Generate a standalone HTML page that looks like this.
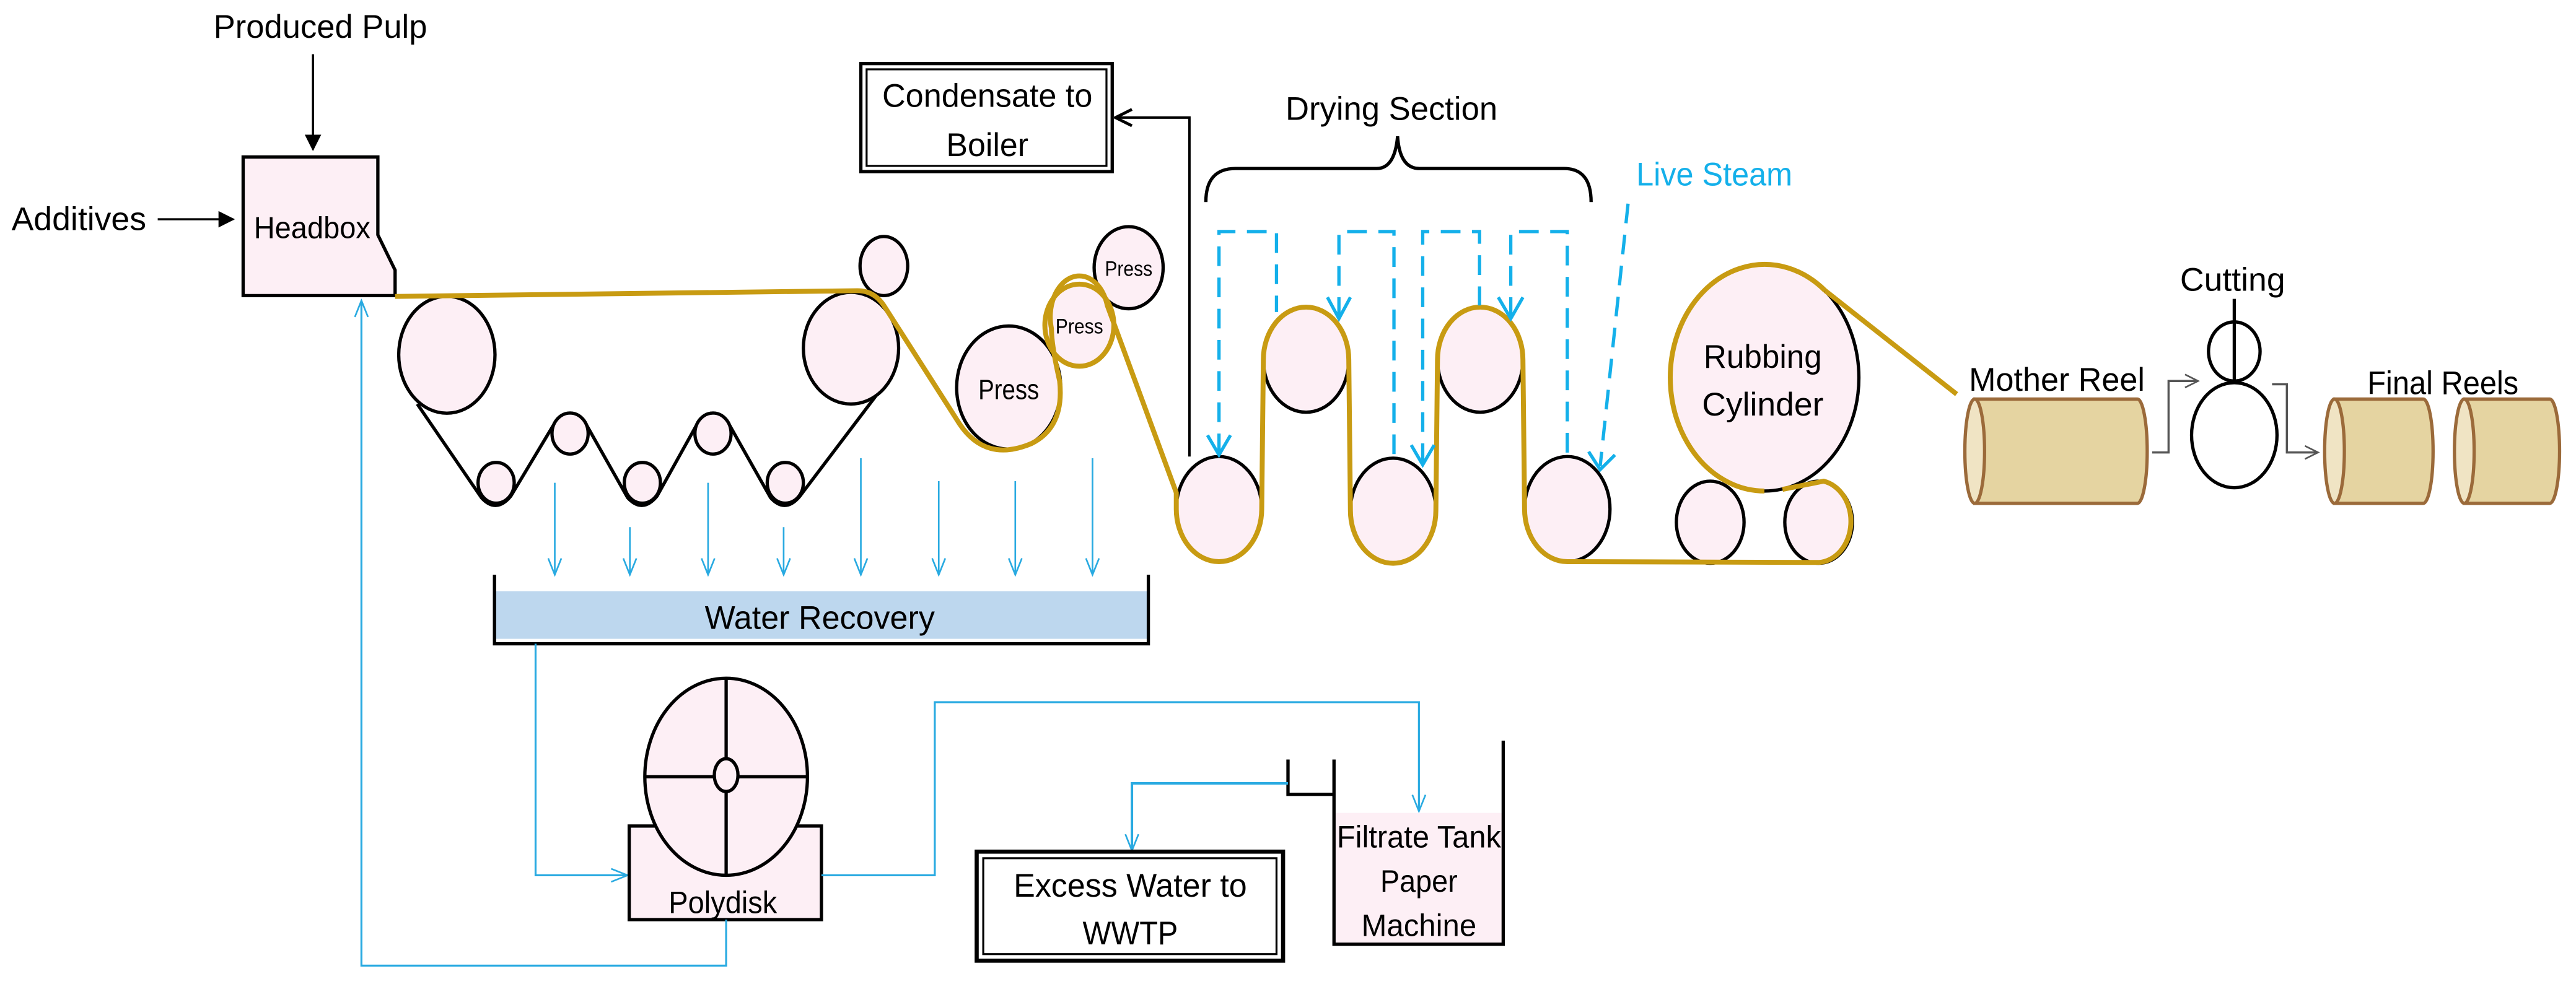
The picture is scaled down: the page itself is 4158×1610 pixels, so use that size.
<!DOCTYPE html>
<html><head><meta charset="utf-8"><style>
html,body{margin:0;padding:0;background:#fff;}
svg{display:block;}
text{font-family:"Liberation Sans Narrow","Liberation Sans",sans-serif;fill:#000;}
</style></head><body>
<svg width="4158" height="1610" viewBox="0 0 1568 607.1" xmlns="http://www.w3.org/2000/svg">
<defs>
<marker id="fa" markerWidth="10" markerHeight="10" refX="9" refY="5" orient="auto" markerUnits="userSpaceOnUse"><path d="M0,0 L10,5 L0,10 Z" fill="#000"/></marker>
<marker id="oa" markerWidth="12" markerHeight="12" refX="11" refY="6" orient="auto" markerUnits="userSpaceOnUse"><path d="M1,1 L11,6 L1,11" fill="none" stroke="#000" stroke-width="1.8"/></marker>
<marker id="ba" markerWidth="12" markerHeight="12" refX="11" refY="6" orient="auto" markerUnits="userSpaceOnUse"><path d="M1,2 L11,6 L1,10" fill="none" stroke="#29aae1" stroke-width="1"/></marker>
<marker id="ga" markerWidth="10" markerHeight="10" refX="9" refY="5" orient="auto" markerUnits="userSpaceOnUse"><path d="M1,1 L9,5 L1,9" fill="none" stroke="#555" stroke-width="1"/></marker>
</defs>

<text x="195" y="23" font-size="20" text-anchor="middle" textLength="130" lengthAdjust="spacingAndGlyphs">Produced Pulp</text>
<line x1="190.5" y1="33" x2="190.5" y2="91" stroke="#000" stroke-width="1.3" marker-end="url(#fa)"/>
<text x="7" y="140" font-size="20" textLength="82" lengthAdjust="spacingAndGlyphs">Additives</text>
<line x1="96" y1="133.5" x2="142" y2="133.5" stroke="#000" stroke-width="1.3" marker-end="url(#fa)"/>

<path d="M148,95.6 L230,95.6 L230,143 L240.5,164.5 L240.5,180 L148,180 Z" fill="#fdeff5" stroke="#000" stroke-width="2"/>
<text x="190" y="145" font-size="18.5" text-anchor="middle" textLength="71" lengthAdjust="spacingAndGlyphs">Headbox</text>

<path d="M254,246 L293,303 Q302,313 311,302 L338,257 Q347,246 356,257 L382,303 Q391,313 400,302 L425,257 Q434,246 443,257 L469,303 Q478,313 487,302 L537,236" fill="none" stroke="#000" stroke-width="2"/>
<ellipse cx="272" cy="216" rx="29.3" ry="35.6" fill="#fdeff5" stroke="#000" stroke-width="2"/>
<ellipse cx="518" cy="212" rx="29" ry="34" fill="#fdeff5" stroke="#000" stroke-width="2"/>
<ellipse cx="538" cy="162" rx="14.5" ry="18" fill="#fdeff5" stroke="#000" stroke-width="2"/>
<ellipse cx="302" cy="294" rx="11" ry="12.4" fill="#fdeff5" stroke="#000" stroke-width="2"/>
<ellipse cx="391" cy="294" rx="11" ry="12.4" fill="#fdeff5" stroke="#000" stroke-width="2"/>
<ellipse cx="478" cy="294" rx="11" ry="12.4" fill="#fdeff5" stroke="#000" stroke-width="2"/>
<ellipse cx="347" cy="264" rx="11" ry="12.5" fill="#fdeff5" stroke="#000" stroke-width="2"/>
<ellipse cx="434" cy="264" rx="11" ry="12.5" fill="#fdeff5" stroke="#000" stroke-width="2"/>

<ellipse cx="614" cy="236" rx="31.7" ry="37.5" fill="#fdeff5" stroke="#000" stroke-width="2"/>
<ellipse cx="687" cy="163" rx="21" ry="25" fill="#fdeff5" stroke="#000" stroke-width="2"/>
<ellipse cx="657" cy="198" rx="21" ry="25" fill="#fdeff5" stroke="#c89b12" stroke-width="3"/>
<text x="614" y="243" font-size="17" text-anchor="middle" textLength="37" lengthAdjust="spacingAndGlyphs">Press</text>
<text x="657" y="203" font-size="13" text-anchor="middle" textLength="29" lengthAdjust="spacingAndGlyphs">Press</text>
<text x="687" y="168" font-size="13" text-anchor="middle" textLength="29" lengthAdjust="spacingAndGlyphs">Press</text>

<rect x="524" y="38.7" width="153" height="65.8" fill="#fff" stroke="#000" stroke-width="2"/>
<rect x="527.5" y="42.2" width="146" height="58.8" fill="none" stroke="#000" stroke-width="1.2"/>
<text x="601" y="65" font-size="20" text-anchor="middle" textLength="128" lengthAdjust="spacingAndGlyphs">Condensate to</text>
<text x="601" y="95" font-size="20" text-anchor="middle" textLength="50" lengthAdjust="spacingAndGlyphs">Boiler</text>
<path d="M724,278 L724,71.6 L679,71.6" fill="none" stroke="#000" stroke-width="1.5" marker-end="url(#oa)"/>

<text x="847" y="73" font-size="20" text-anchor="middle" textLength="129" lengthAdjust="spacingAndGlyphs">Drying Section</text>
<path d="M734,123 Q734,102.6 752,102.6 L838,102.6 Q849,102.6 850.7,83 Q852,102.6 864,102.6 L952,102.6 Q968.5,102.6 968.5,123" fill="none" stroke="#000" stroke-width="2"/>
<text x="996" y="113" font-size="20" style="fill:#14b0ea" textLength="95" lengthAdjust="spacingAndGlyphs">Live Steam</text>

<ellipse cx="742" cy="310" rx="26" ry="32" fill="#fdeff5" stroke="#000" stroke-width="2"/>
<ellipse cx="795" cy="219" rx="26" ry="32" fill="#fdeff5" stroke="#000" stroke-width="2"/>
<ellipse cx="848" cy="311" rx="26" ry="32" fill="#fdeff5" stroke="#000" stroke-width="2"/>
<ellipse cx="901" cy="219" rx="26" ry="32" fill="#fdeff5" stroke="#000" stroke-width="2"/>
<ellipse cx="954" cy="310" rx="26" ry="32" fill="#fdeff5" stroke="#000" stroke-width="2"/>

<ellipse cx="1074" cy="230" rx="57.5" ry="69" fill="#fdeff5" stroke="#000" stroke-width="2"/>
<ellipse cx="1041" cy="318" rx="20.6" ry="25" fill="#fdeff5" stroke="#000" stroke-width="2"/>
<ellipse cx="1107" cy="318" rx="20.6" ry="25" fill="#fdeff5" stroke="#000" stroke-width="2"/>
<text x="1073" y="224" font-size="20" text-anchor="middle" textLength="72" lengthAdjust="spacingAndGlyphs">Rubbing</text>
<text x="1073" y="253" font-size="20" text-anchor="middle" textLength="74" lengthAdjust="spacingAndGlyphs">Cylinder</text>

<path d="M240.5,180.5 L522,177 Q532,177 538,186 L584,258 Q600,282 628,270 Q648,260 645,232 Q640,210 640,200 A17,24 0 0 1 674,186 L716,300 L716,310 A26,32 0 0 0 768,310 L769,219 A26,32 0 0 1 821,219 L822,311 A26,32 0 0 0 874,311 L875,219 A26,32 0 0 1 927,219 L928,310 A26,32 0 0 0 954,342 L1107,342.5 A20.6,25 0 0 0 1110,293 L1085,298" fill="none" stroke="#c89b12" stroke-width="3"/>
<path d="M1111,177 A57.5,69 0 1 0 1074,299" fill="none" stroke="#c89b12" stroke-width="3"/>
<path d="M1111,177 L1191,240" fill="none" stroke="#c89b12" stroke-width="3"/>

<g fill="none" stroke="#14b0ea" stroke-width="2" stroke-dasharray="12,7">
<path d="M742,276 L742,141 L777,141 L777,190"/>
<path d="M815,193 L815,141 L848.5,141 L848.5,280"/>
<path d="M866,282 L866,141 L900.6,141 L900.6,186"/>
<path d="M919.6,193 L919.6,141 L954,141 L954,277"/>
<path d="M991,124 L974,284"/>
</g>
<g stroke="#14b0ea" stroke-width="2" fill="none">
<path d="M735,265 L742,277 L749,265"/>
<path d="M808,181 L815,194 L822,181"/>
<path d="M859,271 L866,283 L873,271"/>
<path d="M912,181 L919.6,194 L927,181"/>
<path d="M967,275 L974,286 L983,277"/>
</g>

<path d="M1202,243 L1301,243 A6,31.75 0 0 1 1301,306.5 L1202,306.5 Z" fill="#e5d4a1" stroke="#9b6a3a" stroke-width="2"/>
<ellipse cx="1202" cy="274.75" rx="6" ry="31.75" fill="#f0e4c4" stroke="#9b6a3a" stroke-width="2"/>
<text x="1252" y="238" font-size="20" text-anchor="middle" textLength="107" lengthAdjust="spacingAndGlyphs">Mother Reel</text>

<text x="1359" y="177" font-size="20" text-anchor="middle" textLength="64" lengthAdjust="spacingAndGlyphs">Cutting</text>
<ellipse cx="1360" cy="214" rx="15.7" ry="18" fill="#fff" stroke="#000" stroke-width="2"/>
<line x1="1360" y1="182" x2="1360" y2="232" stroke="#000" stroke-width="2"/>
<ellipse cx="1360" cy="265" rx="26" ry="32" fill="#fff" stroke="#000" stroke-width="2"/>
<path d="M1310,275.5 L1320,275.5 L1320,232 L1338,232" fill="none" stroke="#555" stroke-width="1.3" marker-end="url(#ga)"/>
<path d="M1383,234 L1392,234 L1392,275.5 L1411,275.5" fill="none" stroke="#555" stroke-width="1.3" marker-end="url(#ga)"/>

<path d="M1421,243 L1475,243 A6,31.75 0 0 1 1475,306.5 L1421,306.5 Z" fill="#e5d4a1" stroke="#9b6a3a" stroke-width="2"/>
<ellipse cx="1421" cy="274.75" rx="6" ry="31.75" fill="#f0e4c4" stroke="#9b6a3a" stroke-width="2"/>
<path d="M1500,243 L1552,243 A6,31.75 0 0 1 1552,306.5 L1500,306.5 Z" fill="#e5d4a1" stroke="#9b6a3a" stroke-width="2"/>
<ellipse cx="1500" cy="274.75" rx="6" ry="31.75" fill="#f0e4c4" stroke="#9b6a3a" stroke-width="2"/>
<text x="1487" y="240" font-size="20" text-anchor="middle" textLength="92" lengthAdjust="spacingAndGlyphs">Final Reels</text>

<g stroke="#29aae1" stroke-width="1" fill="none" marker-end="url(#ba)">
<line x1="337.7" y1="294" x2="337.7" y2="350"/>
<line x1="383.4" y1="321" x2="383.4" y2="350"/>
<line x1="431" y1="294" x2="431" y2="350"/>
<line x1="477" y1="321" x2="477" y2="350"/>
<line x1="524" y1="279" x2="524" y2="350"/>
<line x1="571.4" y1="293" x2="571.4" y2="350"/>
<line x1="618" y1="293" x2="618" y2="350"/>
<line x1="665" y1="279" x2="665" y2="350"/>
</g>

<rect x="301" y="360" width="398" height="29" fill="#bdd7ee"/>
<path d="M301,350 L301,392 L699,392 L699,350" fill="none" stroke="#000" stroke-width="2"/>
<text x="499" y="383" font-size="20" text-anchor="middle" textLength="140" lengthAdjust="spacingAndGlyphs">Water Recovery</text>

<path d="M326,392 L326,533 L382,533" fill="none" stroke="#29aae1" stroke-width="1.2" marker-end="url(#ba)"/>
<rect x="383" y="503" width="117" height="57" fill="#fdeff5" stroke="#000" stroke-width="2"/>
<ellipse cx="442" cy="473" rx="49.5" ry="60" fill="#fdeff5" stroke="#000" stroke-width="2"/>
<line x1="442" y1="413" x2="442" y2="533" stroke="#000" stroke-width="2"/>
<line x1="392.5" y1="473" x2="491.5" y2="473" stroke="#000" stroke-width="2"/>
<ellipse cx="442" cy="472" rx="7.2" ry="10" fill="#fdeff5" stroke="#000" stroke-width="2"/>
<text x="440" y="556" font-size="19" text-anchor="middle" textLength="66" lengthAdjust="spacingAndGlyphs">Polydisk</text>
<path d="M442,560 L442,588 L220,588 L220,183" fill="none" stroke="#29aae1" stroke-width="1.2" marker-end="url(#ba)"/>
<path d="M500,533 L569,533 L569,427.6 L863.7,427.6 L863.7,494" fill="none" stroke="#29aae1" stroke-width="1.2" marker-end="url(#ba)"/>

<rect x="812" y="495" width="103" height="80" fill="#fdeff5"/>
<path d="M784,462.5 L784,483.7 L812,483.7 M812,462.5 L812,575 L915,575 L915,451" fill="none" stroke="#000" stroke-width="2"/>
<text x="863.7" y="516" font-size="19" text-anchor="middle" textLength="100" lengthAdjust="spacingAndGlyphs">Filtrate Tank</text>
<text x="863.7" y="543" font-size="19" text-anchor="middle" textLength="47" lengthAdjust="spacingAndGlyphs">Paper</text>
<text x="863.7" y="570" font-size="19" text-anchor="middle" textLength="70" lengthAdjust="spacingAndGlyphs">Machine</text>
<path d="M784,477 L689,477 L689,518" fill="none" stroke="#29aae1" stroke-width="1.5" marker-end="url(#ba)"/>

<rect x="594.5" y="518.6" width="186.5" height="66.4" fill="#fff" stroke="#000" stroke-width="2.5"/>
<rect x="598.5" y="522.6" width="178.5" height="58.4" fill="none" stroke="#000" stroke-width="1.2"/>
<text x="688" y="546" font-size="20" text-anchor="middle" textLength="142" lengthAdjust="spacingAndGlyphs">Excess Water to</text>
<text x="688" y="575" font-size="20" text-anchor="middle" textLength="58" lengthAdjust="spacingAndGlyphs">WWTP</text>
</svg>
</body></html>
